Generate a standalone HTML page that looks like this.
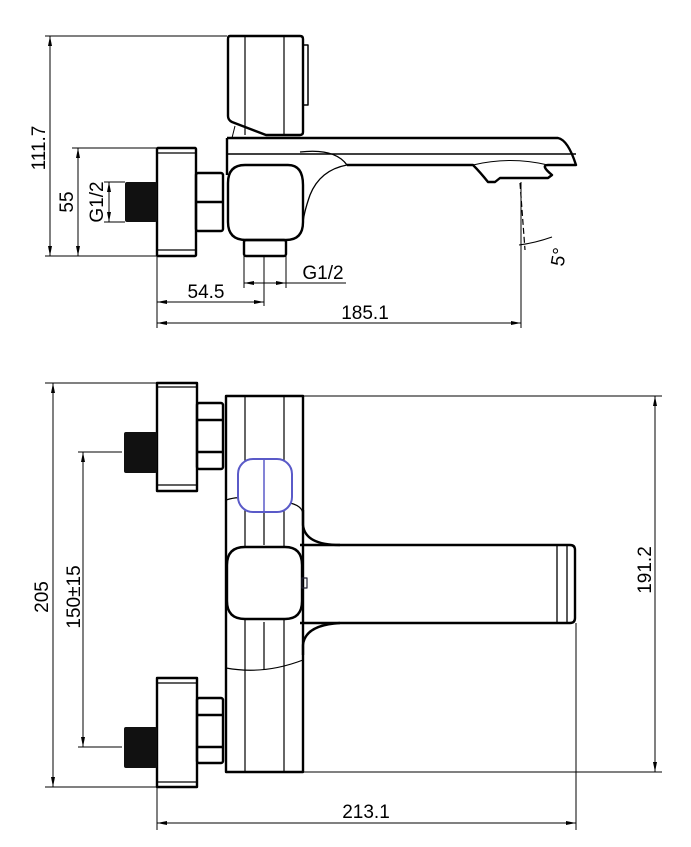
<!DOCTYPE html>
<html><head><style>html,body{margin:0;padding:0;background:#fff}svg{display:block}</style></head><body>
<svg width="691" height="847" viewBox="0 0 691 847" xmlns="http://www.w3.org/2000/svg" font-family="Liberation Sans, sans-serif">
<defs>
<marker id="a" viewBox="0 0 10 4" refX="10" refY="2" markerWidth="10" markerHeight="4" orient="auto-start-reverse" markerUnits="userSpaceOnUse"><path d="M0,0 L10,2 L0,4 z" fill="#000"/></marker>
</defs>
<g fill="none" stroke="#000" stroke-width="1">
<line x1="45" y1="36" x2="227" y2="36"/>
<line x1="45" y1="256" x2="157" y2="256"/>
<line x1="50" y1="36" x2="50" y2="256" marker-start="url(#a)" marker-end="url(#a)"/>
<line x1="72" y1="148" x2="157" y2="148"/>
<line x1="78" y1="148" x2="78" y2="256" marker-start="url(#a)" marker-end="url(#a)"/>
<line x1="104" y1="182" x2="125" y2="182"/>
<line x1="104" y1="222" x2="125" y2="222"/>
<line x1="109" y1="182" x2="109" y2="222" marker-start="url(#a)" marker-end="url(#a)"/>
<line x1="244" y1="256" x2="244" y2="288"/>
<line x1="286" y1="256" x2="286" y2="288"/>
<line x1="244" y1="283" x2="286" y2="283" marker-start="url(#a)" marker-end="url(#a)"/>
<line x1="286" y1="283" x2="346" y2="283"/>
<line x1="264" y1="256" x2="264" y2="306"/>
<line x1="157" y1="256" x2="157" y2="328"/>
<line x1="157" y1="302" x2="264" y2="302" marker-start="url(#a)" marker-end="url(#a)"/>
<line x1="521" y1="182" x2="521" y2="328"/>
<line x1="157" y1="323" x2="521" y2="323" marker-start="url(#a)" marker-end="url(#a)"/>
<line x1="520" y1="183" x2="525" y2="250" stroke-dasharray="6,3" stroke-width="1.2"/>
<path d="M519,245 Q535,243 552,237"/>
</g>
<g fill="none" stroke="#000" stroke-width="2.4" stroke-linejoin="round">
<path d="M230,36 H300 Q303,36 303,39 V132 Q303,135 300,135 H266 L232,122 Q228,120 228,116 V39 Q228,36 230,36Z"/>
<path d="M303,45 H308 V105 H303" stroke-width="1.5"/>
<line x1="245" y1="36" x2="245" y2="135" stroke-width="1.2"/>
<line x1="284" y1="36" x2="284" y2="135" stroke-width="1.2"/>
<line x1="235" y1="126" x2="232" y2="138" stroke-width="1"/>
<path d="M227,138 H558 Q568,140 576,165 H548 Q540,165 552,175 L548,178 H500 L495,182 H488 Q480,172 473,165 H347"/>
<line x1="227" y1="154" x2="576" y2="154" stroke-width="1.5"/>
<path d="M473,165 Q510,156 548,165" stroke-width="1"/>
<line x1="227" y1="138" x2="227" y2="175"/>
<path d="M347,165 Q320,170 310,195 Q303,215 303,225" stroke-width="1.3"/>
<path d="M300,152 Q335,148 347,165" stroke-width="1.3"/>
<path d="M245,165 H288 Q303,165 303,185 V222 Q303,240 286,240 H246 Q228,240 228,222 V183 Q228,165 245,165Z"/>
<rect x="244" y="240" width="42" height="16" rx="2"/>
<rect x="157" y="148" width="39" height="108" rx="1"/>
<line x1="157" y1="153" x2="196" y2="153" stroke-width="1.2"/>
<line x1="157" y1="250" x2="196" y2="250" stroke-width="1.2"/>
<rect x="196" y="173" width="27" height="58" rx="2"/>
<line x1="196" y1="202" x2="223" y2="202"/>
</g>
<rect x="125" y="182" width="32" height="40" rx="2" fill="#111"/>
<g fill="none" stroke="#000" stroke-width="1">
<line x1="45" y1="383" x2="157" y2="383"/>
<line x1="45" y1="787" x2="157" y2="787"/>
<line x1="53" y1="383" x2="53" y2="787" marker-start="url(#a)" marker-end="url(#a)"/>
<line x1="78" y1="452" x2="122" y2="452"/>
<line x1="78" y1="747" x2="122" y2="747"/>
<line x1="83" y1="452" x2="83" y2="747" marker-start="url(#a)" marker-end="url(#a)"/>
<line x1="303" y1="396" x2="662" y2="396"/>
<line x1="303" y1="772" x2="662" y2="772"/>
<line x1="655" y1="396" x2="655" y2="772" marker-start="url(#a)" marker-end="url(#a)"/>
<line x1="157" y1="787" x2="157" y2="830"/>
<line x1="576" y1="623" x2="576" y2="830"/>
<line x1="157" y1="823" x2="576" y2="823" marker-start="url(#a)" marker-end="url(#a)"/>
</g>
<g fill="none" stroke="#000" stroke-width="2.4" stroke-linejoin="round">
<rect x="226" y="396" width="77" height="376"/>
<line x1="245" y1="396" x2="245" y2="772" stroke-width="1.2"/>
<line x1="284" y1="396" x2="284" y2="772" stroke-width="1.2"/>
<line x1="264" y1="512" x2="264" y2="545" stroke-width="1.2"/>
<line x1="264" y1="622" x2="264" y2="670" stroke-width="1.2"/>
<path d="M226,500 Q236,497 240,498 M290,503 Q303,506 303,515" stroke-width="1.2"/>
<path d="M226,668 Q264,675 303,660" stroke-width="1.2"/>
<path d="M303,510 V525 Q305,545 340,545"/>
<path d="M340,623 Q305,625 303,645 V655"/>
<path d="M300,545 H570 Q575,545 575,550 V618 Q575,623 570,623 H300"/>
<line x1="557" y1="545" x2="557" y2="623" stroke-width="1.3"/>
<line x1="567" y1="545" x2="567" y2="623" stroke-width="1.3"/>
<path d="M245,547 H285 Q302,547 302,565 V601 Q302,619 285,619 H245 Q227,619 227,601 V565 Q227,547 245,547Z" fill="#fff"/>
<rect x="302" y="578" width="5" height="10" stroke-width="1.2" stroke="#223"/>
<rect x="157" y="383" width="40" height="108"/>
<line x1="157" y1="387" x2="197" y2="387" stroke-width="1.2"/>
<line x1="157" y1="485" x2="197" y2="485" stroke-width="1.2"/>
<rect x="197" y="403" width="26" height="66" rx="2"/>
<line x1="197" y1="420" x2="223" y2="420"/>
<line x1="197" y1="452" x2="223" y2="452"/>
<rect x="157" y="678" width="40" height="109"/>
<line x1="157" y1="683" x2="197" y2="683" stroke-width="1.2"/>
<line x1="157" y1="782" x2="197" y2="782" stroke-width="1.2"/>
<rect x="197" y="698" width="26" height="65" rx="2"/>
<line x1="197" y1="715" x2="223" y2="715"/>
<line x1="197" y1="747" x2="223" y2="747"/>
</g>
<rect x="124" y="432" width="33" height="41" rx="2" fill="#111"/>
<rect x="124" y="727" width="33" height="41" rx="2" fill="#111"/>
<rect x="238" y="459" width="54" height="53" rx="15" fill="#fff" stroke="#5a5ac8" stroke-width="2"/>
<line x1="264" y1="460" x2="264" y2="511" stroke="#5a5ac8" stroke-width="1.5"/>
<g font-size="19" fill="#000">
<text transform="translate(45,148) rotate(-90)" text-anchor="middle">111.7</text>
<text transform="translate(73,202) rotate(-90)" text-anchor="middle">55</text>
<text transform="translate(103,202) rotate(-90)" text-anchor="middle">G1/2</text>
<text x="323" y="279" text-anchor="middle">G1/2</text>
<text x="206" y="298" text-anchor="middle">54.5</text>
<text x="365" y="319" text-anchor="middle">185.1</text>
<text transform="translate(565,258) rotate(-80)" text-anchor="middle">5°</text>
<text transform="translate(48,597) rotate(-90)" text-anchor="middle">205</text>
<text transform="translate(80,597) rotate(-90)" text-anchor="middle">150±15</text>
<text transform="translate(651,570) rotate(-90)" text-anchor="middle">191.2</text>
<text x="366" y="818" text-anchor="middle">213.1</text>
</g>
</svg>
</body></html>
